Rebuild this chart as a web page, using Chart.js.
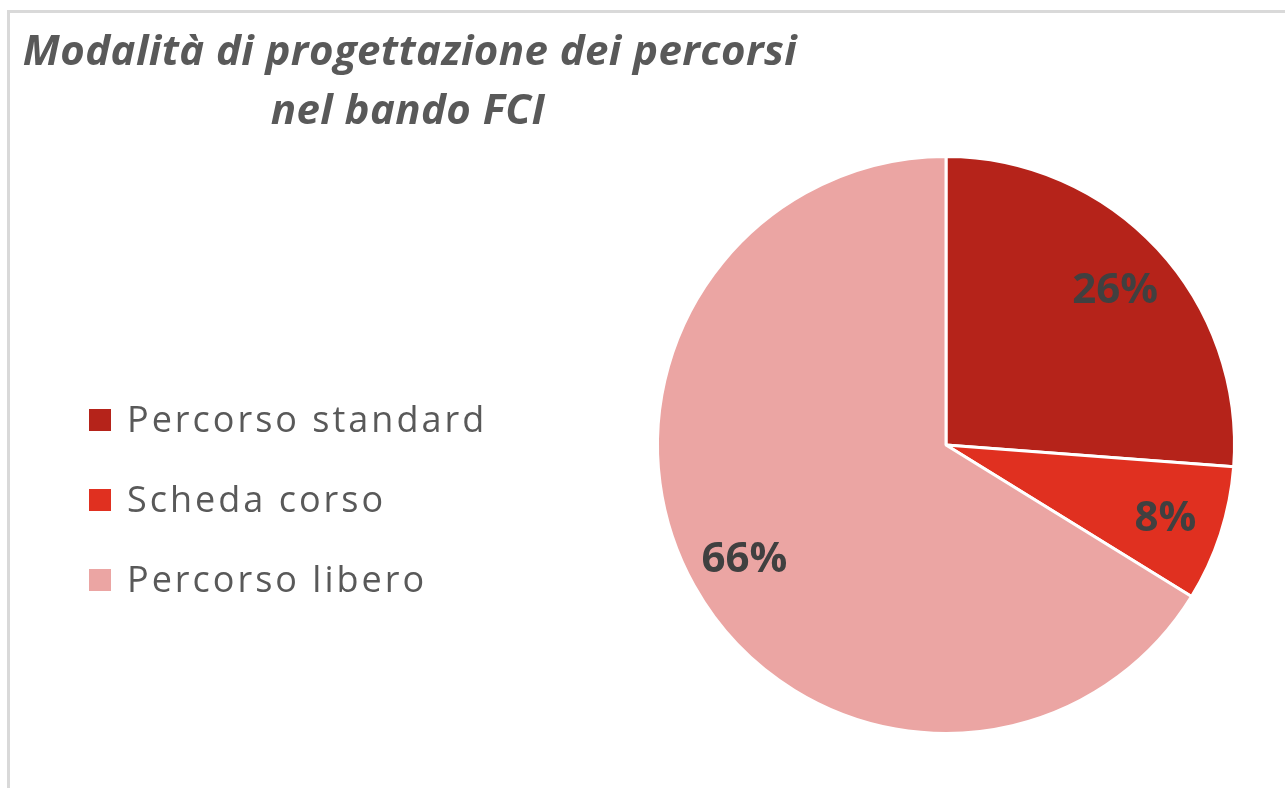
<!DOCTYPE html>
<html>
<head>
<meta charset="utf-8">
<script src="https://cdn.jsdelivr.net/npm/chart.js@4.4.1/dist/chart.umd.min.js"></script>
<style>
  html, body { margin: 0; padding: 0; background: #fff; overflow: hidden; }
  #frame { position: absolute; left: 7px; top: 10px; width: 1300px; height: 800px;
           border-left: 3px solid #d9d9d9; border-top: 3px solid #d9d9d9; }
  #chart { position: absolute; left: 0; top: 0; }
</style>
</head>
<body>
<div id="frame"></div>
<canvas id="chart" width="1285" height="788"></canvas>
<script>
const titleLines = ["Modalità di progettazione dei percorsi", "nel bando FCI"];
const categories = ["Percorso standard", "Scheda corso", "Percorso libero"];
const shares = [26.2, 7.6, 66.2];
const sliceColors = ["#b5231a", "#e03020", "#eba5a3"];

// title, centred over the left part like the original
const titlePlugin = {
  id: "leftTitle",
  afterDraw(chart) {
    const ctx = chart.ctx;
    ctx.save();
    ctx.font = "italic bold 42px 'Open Sans'";
    ctx.letterSpacing = "0.4px";
    ctx.fillStyle = "#595959";
    ctx.textAlign = "center";
    ctx.fillText(titleLines[0], 410, 65);
    ctx.fillText(titleLines[1], 408, 124);
    ctx.restore();
  }
};

// legend drawn by hand at the left
const legendPlugin = {
  id: "sideLegend",
  afterDraw(chart) {
    const ctx = chart.ctx;
    const ds = chart.data.datasets[0];
    ctx.save();
    ctx.font = "36px 'Open Sans'";
    ctx.letterSpacing = "3px";
    chart.data.labels.forEach((label, i) => {
      const base = 432 + i * 80;
      ctx.fillStyle = ds.backgroundColor[i];
      ctx.fillRect(89, base - 23, 22, 22);
      ctx.fillStyle = "#595959";
      ctx.fillText(label, 127, base);
    });
    ctx.restore();
  }
};

// percentage labels inside the slices
const sliceLabels = {
  id: "sliceLabels",
  afterDatasetsDraw(chart) {
    const ctx = chart.ctx;
    const meta = chart.getDatasetMeta(0);
    ctx.save();
    ctx.font = "bold 42px 'Open Sans'";
    ctx.fillStyle = "#404040";
    ctx.textAlign = "center";
    meta.data.forEach((arc, i) => {
      const p = arc.getProps(["x", "y", "startAngle", "endAngle", "outerRadius"], true);
      const mid = (p.startAngle + p.endAngle) / 2;
      const r = p.outerRadius * 0.8;
      const cx = p.x + Math.cos(mid) * r;
      const cy = p.y + Math.sin(mid) * r;
      ctx.fillText(Math.round(shares[i]) + "%", cx, cy + 15);
    });
    ctx.restore();
  }
};

new Chart(document.getElementById("chart"), {
  type: "pie",
  data: {
    labels: categories,
    datasets: [{
      data: shares,
      backgroundColor: sliceColors,
      borderColor: "#ffffff",
      borderWidth: 3
    }]
  },
  options: {
    responsive: false,
    animation: false,
    layout: { padding: { left: 656, right: 49, top: 155, bottom: 53 } },
    plugins: {
      legend: { display: false },
      tooltip: { enabled: false },
      title: { display: false }
    }
  },
  plugins: [titlePlugin, legendPlugin, sliceLabels]
});
</script>
</body>
</html>
